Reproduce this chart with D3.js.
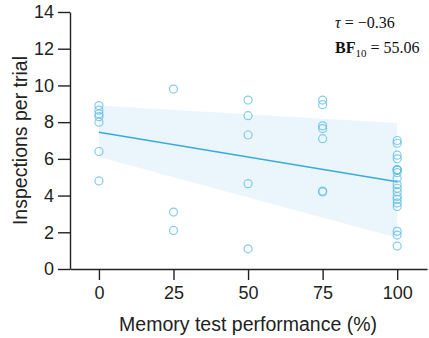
<!DOCTYPE html>
<html>
<head>
<meta charset="utf-8">
<script src="https://cdn.jsdelivr.net/npm/d3@7"></script>
<style>
  body { margin: 0; background: #fff; }
  svg { display: block; }
</style>
</head>
<body>
<div id="chart"></div>
<script>
// memory score groups and the inspections per trial
var groups = [0, 25, 50, 75, 100];
var values0 = [8.9, 8.65, 8.45, 8.3, 8.0, 6.4, 4.8];
var values25 = [9.8, 3.1, 2.1];
var values50 = [9.2, 8.35, 7.3, 4.65, 1.1];
var values75 = [9.2, 8.95, 7.8, 7.65, 7.1, 4.25, 4.2];
var values100 = [7.0, 6.85, 6.2, 6.0, 5.4, 5.4, 5.4, 5.25, 4.95, 4.6, 4.4, 4.2, 3.95, 3.8, 3.6, 3.4, 2.05, 1.85, 1.25];

// regression line and credible band
var fitX = [0, 100];
var fitY = [7.45, 4.75];
var bandLow = [6.1, 1.7];
var bandHigh = [8.9, 7.95];

var xTicks = [0, 25, 50, 75, 100];
var yTicks = [0, 2, 4, 6, 8, 10, 12, 14];

var points = [];
[values0, values25, values50, values75, values100].forEach(function(vals, i) {
  vals.forEach(function(v) { points.push({x: groups[i], y: v}); });
});

var W = 429, H = 338;
var margin = {left: 70, top: 12, right: 2, bottom: 69};

var svg = d3.select("#chart").append("svg")
    .attr("width", W)
    .attr("height", H);

var x = d3.scaleLinear().domain([-9.7, 110]).range([margin.left, W - margin.right]);
var y = d3.scaleLinear().domain([0, 14]).range([H - margin.bottom, margin.top]);

var band = fitX.map(function(d, i) { return {x: d, lo: bandLow[i], hi: bandHigh[i]}; });

svg.append("path")
    .datum(band)
    .attr("d", d3.area()
      .x(function(d) { return x(d.x); })
      .y0(function(d) { return y(d.lo); })
      .y1(function(d) { return y(d.hi); }))
    .attr("fill", "#ebf6fc");

svg.append("path")
    .datum(fitX.map(function(d, i) { return [d, fitY[i]]; }))
    .attr("d", d3.line()
      .x(function(d) { return x(d[0]); })
      .y(function(d) { return y(d[1]); }))
    .attr("fill", "none")
    .attr("stroke", "#3aaad9")
    .attr("stroke-width", 1.5);

svg.selectAll("circle.pt")
    .data(points)
    .enter()
    .append("circle")
    .attr("class", "pt")
    .attr("cx", function(d) { return x(d.x); })
    .attr("cy", function(d) { return y(d.y); })
    .attr("r", 4)
    .attr("fill", "none")
    .attr("stroke", "#5bbbe3")
    .attr("stroke-opacity", 0.75)
    .attr("stroke-width", 1.2);

var xAxis = svg.append("g")
    .attr("transform", "translate(0," + y(0) + ")")
    .call(d3.axisBottom(x).tickValues(xTicks).tickSize(11).tickSizeOuter(0).tickPadding(6));

var yAxis = svg.append("g")
    .attr("transform", "translate(" + margin.left + ",0)")
    .call(d3.axisLeft(y).tickValues(yTicks).tickSize(12).tickSizeOuter(0).tickPadding(4));

[xAxis, yAxis].forEach(function(g) {
  g.selectAll("path, line").attr("stroke", "#222").attr("stroke-width", 1.4);
  g.selectAll("text")
    .attr("fill", "#222")
    .style("font-family", "'Liberation Sans', Arial, sans-serif")
    .style("font-size", "18px");
});

svg.append("text")
    .attr("x", x(50))
    .attr("y", 331)
    .attr("text-anchor", "middle")
    .attr("fill", "#222")
    .style("font-family", "'Liberation Sans', Arial, sans-serif")
    .style("font-size", "19.5px")
    .text("Memory test performance (%)");

svg.append("text")
    .attr("transform", "translate(27," + ((y(0) + y(14)) / 2) + ") rotate(-90)")
    .attr("text-anchor", "middle")
    .attr("fill", "#222")
    .style("font-family", "'Liberation Sans', Arial, sans-serif")
    .style("font-size", "19.5px")
    .text("Inspections per trial");

var note = svg.append("g")
    .style("font-family", "'Liberation Serif', 'Times New Roman', serif")
    .style("font-size", "16px")
    .attr("fill", "#111");

var t1 = note.append("text").attr("x", 335).attr("y", 28);
t1.append("tspan").style("font-style", "italic").text("τ");
t1.append("tspan").text(" = −0.36");

var t2 = note.append("text").attr("x", 335).attr("y", 53);
t2.append("tspan").style("font-weight", "bold").text("BF");
t2.append("tspan").attr("dy", 4).style("font-size", "11px").text("10");
t2.append("tspan").attr("dy", -4).text(" = 55.06");
</script>
</body>
</html>
